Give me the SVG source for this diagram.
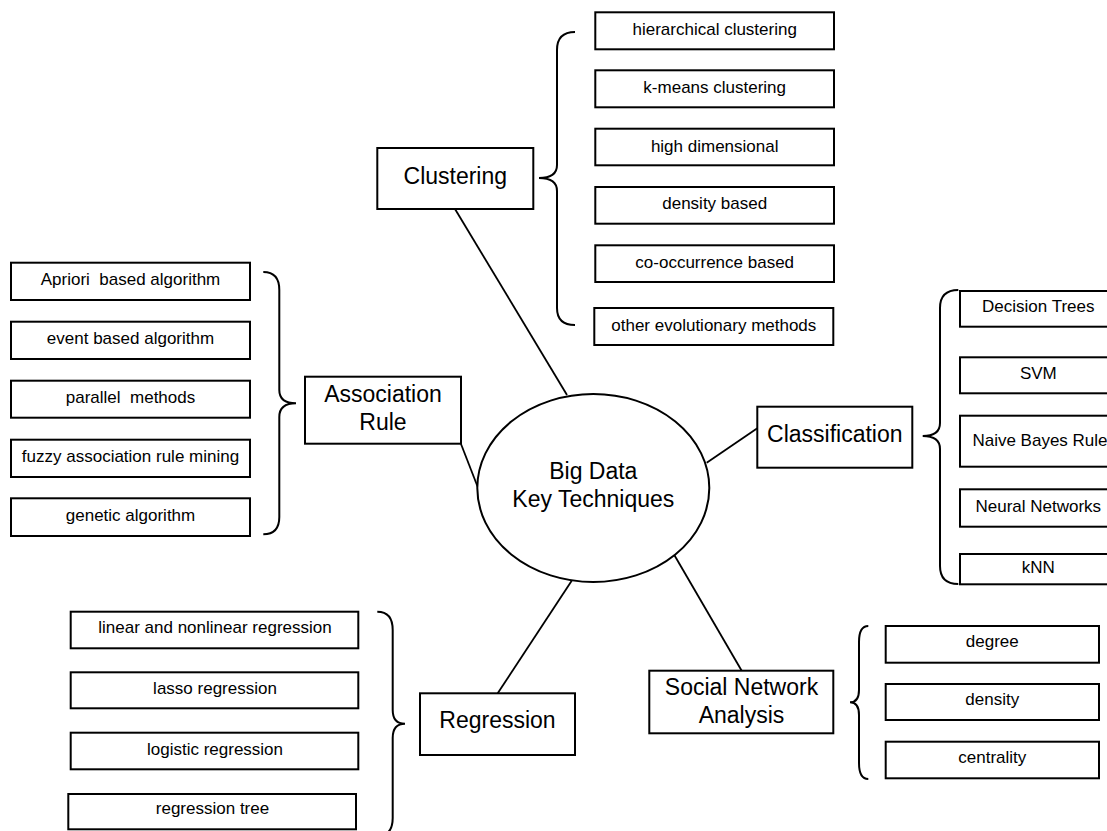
<svg xmlns="http://www.w3.org/2000/svg" width="1107" height="831" viewBox="0 0 1107 831">
<style>
.box{fill:#fff;stroke:#000;stroke-width:2}
.line{fill:none;stroke:#000;stroke-width:1.8}
.brace{fill:none;stroke:#000;stroke-width:2}
.big{font-family:"Liberation Sans",Arial,sans-serif;font-size:23px;fill:#000;text-anchor:middle}
.sm{font-family:"Liberation Sans",Arial,sans-serif;font-size:17px;fill:#000;text-anchor:middle}
</style>
<rect width="1107" height="831" fill="#fff"/>
<g id="connectors">
<line class="line" x1="455" y1="209" x2="567" y2="395"/>
<line class="line" x1="461" y1="444" x2="478.5" y2="489"/>
<line class="line" x1="706.7" y1="462.7" x2="757.3" y2="428.3"/>
<line class="line" x1="497.7" y1="693.3" x2="571.7" y2="580.7"/>
<line class="line" x1="674.3" y1="555" x2="741.7" y2="670.7"/>
<path class="brace" d="M575,32 Q557,32 557,50 L557,165 Q557,178 539,178 Q557,178 557,191 L557,308 Q557,325 575,325"/>
<path class="brace" d="M263.3,272 Q279.3,272 279.3,290 L279.3,390 Q279.3,403.3 296,403.3 Q279.3,403.3 279.3,417 L279.3,517 Q279.3,534.3 263.3,534.3"/>
<path class="brace" d="M958.3,290 Q940,290 940,308 L940,423 Q940,436 922.7,436 Q940,436 940,449 L940,566 Q940,584 958.3,584"/>
<path class="brace" d="M377.3,611.7 Q392.7,611.7 392.7,630 L392.7,710 Q392.7,723.8 405,723.8 Q392.7,723.8 392.7,738 L392.7,818 Q392.7,836 377.3,836"/>
<path class="brace" d="M868.3,626 Q859,626 859,642 L859,690 Q859,702.3 850,702.3 Q859,702.3 859,715 L859,763 Q859,779 868.3,779"/>
</g>
<g id="center">
<ellipse cx="593.3" cy="488" rx="116" ry="94" fill="#fff" stroke="#000" stroke-width="2"/>
<text class="big" x="593.3" y="479">Big Data</text>
<text class="big" x="593.3" y="506.7">Key Techniques</text>
</g>
<g id="clustering">
<rect class="box" x="377.3" y="148" width="156" height="61"/>
<text class="big" x="455.3" y="184.3">Clustering</text>
</g>
<g id="c1"><rect class="box" x="595.3" y="12.3" width="238.7" height="37"/><text class="sm" x="714.7" y="35">hierarchical clustering</text></g>
<g id="c2"><rect class="box" x="595.3" y="70.3" width="238.7" height="37"/><text class="sm" x="714.7" y="93.3">k-means clustering</text></g>
<g id="c3"><rect class="box" x="595.3" y="128.7" width="238.7" height="36.6"/><text class="sm" x="714.7" y="151.7">high dimensional</text></g>
<g id="c4"><rect class="box" x="595.3" y="187" width="238.7" height="36.7"/><text class="sm" x="714.7" y="209.3">density based</text></g>
<g id="c5"><rect class="box" x="595.3" y="245.3" width="238.7" height="36.7"/><text class="sm" x="714.7" y="267.7">co-occurrence based</text></g>
<g id="c6"><rect class="box" x="594.3" y="308" width="239" height="37"/><text class="sm" x="713.8" y="331">other evolutionary methods</text></g>
<g id="association">
<rect class="box" x="305" y="376.7" width="156" height="67"/>
<text class="big" x="383" y="401.7">Association</text>
<text class="big" x="383" y="430">Rule</text>
</g>
<g id="a1"><rect class="box" x="11" y="262.7" width="239" height="37.3"/><text class="sm" x="130.5" y="285" xml:space="preserve">Apriori  based algorithm</text></g>
<g id="a2"><rect class="box" x="11" y="321.7" width="239" height="37.3"/><text class="sm" x="130.5" y="344.3">event based algorithm</text></g>
<g id="a3"><rect class="box" x="11" y="380.7" width="239" height="37"/><text class="sm" x="130.5" y="403.3" xml:space="preserve">parallel  methods</text></g>
<g id="a4"><rect class="box" x="11" y="439.7" width="239" height="37.3"/><text class="sm" x="130.5" y="462.3">fuzzy association rule mining</text></g>
<g id="a5"><rect class="box" x="11" y="498.3" width="239" height="37.7"/><text class="sm" x="130.5" y="521">genetic algorithm</text></g>
<g id="classification">
<rect class="box" x="757.3" y="406.7" width="155" height="61"/>
<text class="big" x="834.8" y="441.7">Classification</text>
</g>
<g id="k1"><rect class="box" x="960" y="291" width="160" height="35.7"/><text class="sm" x="1038.3" y="312.3">Decision Trees</text></g>
<g id="k2"><rect class="box" x="960" y="357.3" width="160" height="36"/><text class="sm" x="1038.3" y="379">SVM</text></g>
<g id="k3"><rect class="box" x="960" y="415.7" width="160" height="51"/><text class="sm" x="1040" y="445.7">Naive Bayes Rule</text></g>
<g id="k4"><rect class="box" x="960" y="489.3" width="160" height="37.4"/><text class="sm" x="1038.3" y="511.7">Neural Networks</text></g>
<g id="k5"><rect class="box" x="960" y="554" width="160" height="30.3"/><text class="sm" x="1038.3" y="573.3">kNN</text></g>
<g id="regression">
<rect class="box" x="420" y="693.3" width="155" height="61.7"/>
<text class="big" x="497.5" y="728.3">Regression</text>
</g>
<g id="r1"><rect class="box" x="70.7" y="611.7" width="287.6" height="36.6"/><text class="sm" x="215" y="633.3">linear and nonlinear regression</text></g>
<g id="r2"><rect class="box" x="70.7" y="672.3" width="287.6" height="36"/><text class="sm" x="215" y="694">lasso regression</text></g>
<g id="r3"><rect class="box" x="70.7" y="732.7" width="287.6" height="36.6"/><text class="sm" x="215" y="755">logistic regression</text></g>
<g id="r4"><rect class="box" x="68.3" y="794" width="287.7" height="35.3"/><text class="sm" x="212.5" y="814">regression tree</text></g>
<g id="sna">
<rect class="box" x="649.3" y="670.7" width="184" height="62.6"/>
<text class="big" x="741.5" y="695">Social Network</text>
<text class="big" x="741.5" y="723.3">Analysis</text>
</g>
<g id="s1"><rect class="box" x="885.7" y="626" width="213.3" height="36.7"/><text class="sm" x="992.3" y="647.3">degree</text></g>
<g id="s2"><rect class="box" x="885.7" y="684" width="213.3" height="36"/><text class="sm" x="992.3" y="705">density</text></g>
<g id="s3"><rect class="box" x="885.7" y="741.7" width="213.3" height="36.6"/><text class="sm" x="992.3" y="763.3">centrality</text></g>
</svg>
